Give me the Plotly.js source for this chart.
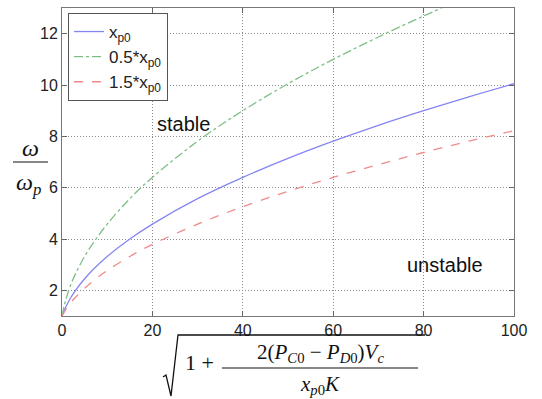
<!DOCTYPE html>
<html><head><meta charset="utf-8">
<script src="https://cdn.plot.ly/plotly-3.0.1.min.js"></script>
<style>html,body{margin:0;padding:0;background:#fff}#c{width:542px;height:399px}</style>
</head><body><div id="c"></div>
<script>
// values
const xBlue = [0, 0.5, 1, 2, 3, 5, 7, 10, 15, 20, 30, 40, 50, 60, 70, 80, 90, 100];
const yBlue = [1, 1.22, 1.41, 1.73, 2.0, 2.45, 2.83, 3.32, 4.0, 4.58, 5.57, 6.4, 7.14, 7.81, 8.43, 9.0, 9.54, 10.05];
const xGreen = [0, 0.5, 1, 2, 3, 5, 7, 10, 15, 20, 30, 40, 50, 60, 70, 80, 84];
const yGreen = [1, 1.41, 1.73, 2.24, 2.65, 3.32, 3.87, 4.58, 5.57, 6.4, 7.81, 9.0, 10.05, 11.0, 11.87, 12.69, 13.0];
const xRed = [0, 0.5, 1, 2, 3, 5, 7, 10, 15, 20, 30, 40, 50, 60, 70, 80, 90, 100];
const yRed = [1, 1.15, 1.29, 1.53, 1.73, 2.08, 2.38, 2.77, 3.32, 3.79, 4.58, 5.26, 5.86, 6.4, 6.9, 7.37, 7.81, 8.22];
const seriesNames = ['x<sub>p0</sub>', '0.5*x<sub>p0</sub>', '1.5*x<sub>p0</sub>'];
const xTicks = [0, 20, 40, 60, 80, 100];
const yTicks = [2, 4, 6, 8, 10, 12];

const W = 542, H = 399, L = 62, R = 28, T = 8, B = 83;
const pw = W - L - R, ph = H - T - B;
const px = v => (v - L) / pw;
const py = v => (H - B - v) / ph;

const serif = 'Liberation Serif, DejaVu Serif, serif';
const sans = 'Liberation Sans, Arial, sans-serif';

const traces = [
  {x: xBlue, y: yBlue, name: seriesNames[0], mode: 'lines', line: {color: '#8585f2', width: 1.3, shape: 'spline'}},
  {x: xGreen, y: yGreen, name: seriesNames[1], mode: 'lines', line: {color: '#7fbf86', width: 1.3, dash: 'dashdot', shape: 'spline'}},
  {x: xRed, y: yRed, name: seriesNames[2], mode: 'lines', line: {color: '#f08a8a', width: 1.3, dash: 'dash', shape: 'spline'}}
];

function ann(text, x, y, size, extra) {
  return Object.assign({text: text, xref: 'paper', yref: 'paper', x: px(x), y: py(y),
    showarrow: false, xanchor: 'center', yanchor: 'middle',
    font: {family: serif, size: size, color: '#111'}}, extra || {});
}

const gridStyle = {showgrid: true, gridcolor: '#8a8a8a', griddash: '1px,2px', gridwidth: 1};

const layout = {
  width: W, height: H,
  margin: {l: L, r: R, t: T, b: B},
  paper_bgcolor: '#fff', plot_bgcolor: '#fff',
  showlegend: true,
  legend: {x: px(68), y: py(13), xanchor: 'left', yanchor: 'top',
    bordercolor: '#555', borderwidth: 1, bgcolor: '#fff',
    font: {family: sans, size: 17, color: '#222'}, tracegroupgap: 0},
  xaxis: Object.assign({range: [0, 100], tickvals: xTicks, ticks: 'inside', ticklen: 5, tickcolor: '#666',
    showline: true, linecolor: '#777', mirror: 'ticks', zeroline: false,
    tickfont: {family: sans, size: 16, color: '#222'}}, gridStyle),
  yaxis: Object.assign({range: [1, 13], tickvals: yTicks, ticks: 'inside', ticklen: 5, tickcolor: '#666',
    showline: true, linecolor: '#777', mirror: 'ticks', zeroline: false,
    tickfont: {family: sans, size: 16, color: '#222'}}, gridStyle),
  annotations: [
    {text: 'stable', x: 26.9, y: 8.49, xref: 'x', yref: 'y', showarrow: false,
      font: {family: sans, size: 20, color: '#111'}},
    {text: 'unstable', x: 84.8, y: 2.98, xref: 'x', yref: 'y', showarrow: false,
      font: {family: sans, size: 20, color: '#111'}},
    ann('<i>ω</i>', 30, 148, 24),
    ann('<i>ω<sub>p</sub></i>', 28, 184, 24),
    ann('1 +', 199, 362, 22),
    ann('2(<i>P</i><sub><i>C</i>0</sub> − <i>P</i><sub><i>D</i>0</sub>)<i>V</i><sub><i>c</i></sub>', 320, 353, 21),
    ann('<i>x</i><sub><i>p</i>0</sub><i>K</i>', 320, 385, 21)
  ],
  shapes: [
    {type: 'line', xref: 'paper', yref: 'paper', x0: px(13), x1: px(48), y0: py(162), y1: py(162),
      line: {color: '#111', width: 1.2}},
    {type: 'line', xref: 'paper', yref: 'paper', x0: px(222), x1: px(418), y0: py(368), y1: py(368),
      line: {color: '#111', width: 1.2}},
    {type: 'path', xref: 'paper', yref: 'paper',
      path: 'M ' + px(163) + ' ' + py(377) + ' L ' + px(166) + ' ' + py(375) +
            ' L ' + px(171) + ' ' + py(396) + ' L ' + px(178) + ' ' + py(335) +
            ' L ' + px(425) + ' ' + py(335),
      line: {color: '#111', width: 1.3}}
  ]
};

Plotly.newPlot('c', traces, layout, {displayModeBar: false, staticPlot: true});
</script></body></html>
